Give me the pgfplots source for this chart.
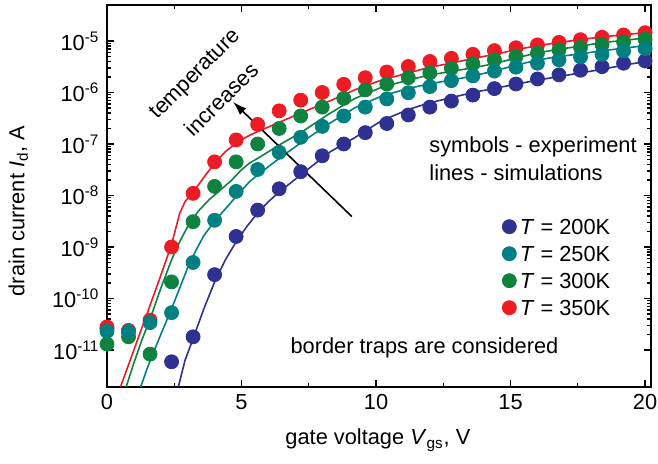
\documentclass[border=0pt]{standalone}
\usepackage{fontspec}
\setmainfont{Liberation Sans}
\usepackage{pgfplots}
\pgfplotsset{compat=1.18}
\usetikzlibrary{arrows.meta}

\definecolor{cblue}{RGB}{46,49,146}
\definecolor{cteal}{RGB}{0,128,128}
\definecolor{cgreen}{RGB}{16,130,64}
\definecolor{cred}{RGB}{237,28,36}

\begin{document}
\fontsize{10.9}{13}\selectfont
\begin{tikzpicture}
\begin{axis}[
  scale only axis, width=272pt, height=191pt,
  xmin=0, xmax=20.22,
  ymode=log, ymin=1.91e-12, ymax=5e-5,
  xtick={0,5,10,15,20}, minor x tick num=1,
  ytick={1e-11,1e-10,1e-9,1e-8,1e-7,1e-6,1e-5},
  yticklabels={10\textsuperscript{-11},10\textsuperscript{-10},10\textsuperscript{-9},10\textsuperscript{-8},10\textsuperscript{-7},10\textsuperscript{-6},10\textsuperscript{-5}},
  /pgf/number format/assume math mode=true,
  tick label style={font=\fontsize{10.9}{13}\selectfont},
  major tick length=3.5pt, minor tick length=1.8pt,
  axis line style={line width=0.8pt}, every tick/.style={line width=0.6pt, black},
  xlabel={gate voltage \textit{V}\textsubscript{gs}, V},
  ylabel={drain current \textit{I}\textsubscript{d}, A},
  xlabel style={at={(axis description cs:0.498,-0.139)}, anchor=center},
  ylabel style={at={(axis description cs:-0.163,0.461)}, anchor=center},
  legend style={draw=none, fill=none, at={(rel axis cs:0.715,0.46)}, anchor=north west,
    row sep=2.5pt, nodes={inner sep=1.75pt, text height=7.5pt, text depth=0pt}},
  legend cell align=left,
  legend image code/.code={\draw[#1] plot coordinates {(0.2cm,0cm)};},
  mark size=3.5pt,
]
\addlegendimage{only marks, mark=*, cblue}
\addlegendimage{only marks, mark=*, cteal}
\addlegendimage{only marks, mark=*, cgreen}
\addlegendimage{only marks, mark=*, cred}

% experiment
\addplot[forget plot, only marks, mark=*, cblue] coordinates {
(0,2.6e-11) (0.8,2.3e-11) (2.4,5.9e-12) (3.2,1.8e-11) (4.0,2.9e-10) (4.8,1.6e-9)
(5.6,5.2e-9) (6.4,1.35e-8) (7.2,2.9e-8) (8.0,5.9e-8) (8.8,1.0e-7) (9.6,1.66e-7)
(10.4,2.5e-7) (11.2,3.66e-7) (12.0,5.2e-7) (12.8,6.8e-7) (13.6,8.9e-7) (14.4,1.19e-6)
(15.2,1.46e-6) (16.0,1.83e-6) (16.8,2.2e-6) (17.6,2.7e-6) (18.4,3.17e-6) (19.2,3.7e-6) (20.0,4.1e-6)};
\addplot[forget plot, only marks, mark=*, cred] coordinates {
(0,2.8e-11) (0.8,2.4e-11) (1.6,3.8e-11) (2.4,1.0e-9) (3.2,1.1e-8) (4.0,4.5e-8) (4.8,1.2e-7)
(5.6,2.4e-7) (6.4,4.4e-7) (7.2,7.1e-7) (8.0,1.0e-6) (8.8,1.44e-6) (9.6,1.94e-6)
(10.4,2.5e-6) (11.2,3.2e-6) (12.0,4.0e-6) (12.8,4.6e-6) (13.6,5.5e-6) (14.4,6.5e-6)
(15.2,7.4e-6) (16.0,8.4e-6) (16.8,9.4e-6) (17.6,1.06e-5) (18.4,1.18e-5) (19.2,1.31e-5) (20.0,1.45e-5)};
\addplot[forget plot, only marks, mark=*, cgreen] coordinates {
(0,1.3e-11) (0.8,1.8e-11) (1.6,8.3e-12) (2.4,2.1e-10) (3.2,3.1e-9) (4.0,1.5e-8) (4.8,4.5e-8)
(5.6,1.0e-7) (6.4,2.0e-7) (7.2,3.5e-7) (8.0,5.2e-7) (8.8,7.7e-7) (9.6,1.12e-6)
(10.4,1.46e-6) (11.2,1.94e-6) (12.0,2.4e-6) (12.8,2.95e-6) (13.6,3.6e-6) (14.4,4.3e-6)
(15.2,5.0e-6) (16.0,5.8e-6) (16.8,6.7e-6) (17.6,7.5e-6) (18.4,8.5e-6) (19.2,9.6e-6) (20.0,1.08e-5)};
\addplot[forget plot, only marks, mark=*, cteal] coordinates {
(0,2.3e-11) (0.8,2.3e-11) (1.6,3.4e-11) (2.4,5.3e-11) (3.2,5.0e-10) (4.0,3.3e-9) (4.8,1.2e-8)
(5.6,3.2e-8) (6.4,6.9e-8) (7.2,1.35e-7) (8.0,2.2e-7) (8.8,3.5e-7) (9.6,5.2e-7)
(10.4,7.5e-7) (11.2,9.9e-7) (12.0,1.3e-6) (12.8,1.7e-6) (13.6,2.1e-6) (14.4,2.6e-6)
(15.2,3.1e-6) (16.0,3.7e-6) (16.8,4.3e-6) (17.6,4.9e-6) (18.4,5.5e-6) (19.2,6.4e-6) (20.0,7.1e-6)};

% simulations
\addplot[forget plot, cblue, line width=0.8pt] coordinates {
(2.65,1.91e-12) (2.9,6.31e-12) (3.2,1.66e-11) (3.6,6.31e-11) (4.0,2.09e-10) (4.4,5.62e-10)
(4.8,1.26e-9) (5.2,2.51e-9) (5.6,4.57e-9) (6.0,7.59e-9) (6.4,1.17e-8) (7.2,2.51e-8)
(8.3,7.08e-8) (9.2,1.32e-7) (10.2,2.82e-7) (11.2,4.68e-7) (12.0,6.31e-7) (12.8,7.94e-7)
(13.6,1.0e-6) (14.4,1.20e-6) (15.2,1.45e-6) (16.0,1.74e-6) (16.8,2.04e-6) (17.6,2.40e-6)
(18.4,2.82e-6) (19.2,3.39e-6) (20.0,3.98e-6) (20.2,4.27e-6)};
\addplot[forget plot, cteal, line width=0.8pt] coordinates {
(1.25,1.91e-12) (1.5,4.47e-12) (1.75,9.55e-12) (2.0,2.0e-11) (2.2,3.55e-11) (2.4,6.31e-11)
(2.7,1.58e-10) (3.0,3.98e-10) (3.3,8.51e-10) (3.6,1.66e-9) (4.0,3.16e-9) (4.4,5.50e-9)
(4.8,9.55e-9) (5.3,1.86e-8) (5.6,2.51e-8) (6.4,5.25e-8) (7.2,1.05e-7) (8.3,2.57e-7)
(9.2,5.01e-7) (10.2,8.51e-7) (11.2,1.20e-6) (12.0,1.48e-6) (12.8,1.74e-6) (13.6,2.09e-6)
(14.4,2.63e-6) (15.2,3.39e-6) (16.0,4.27e-6) (16.8,5.01e-6) (17.6,5.62e-6) (18.4,6.46e-6)
(19.2,7.24e-6) (20.0,8.13e-6) (20.2,8.32e-6)};
\addplot[forget plot, cgreen, line width=0.8pt] coordinates {
(0.71,1.91e-12) (1.0,5.62e-12) (1.3,1.58e-11) (1.6,3.98e-11) (2.0,1.58e-10) (2.4,5.62e-10)
(2.7,1.26e-9) (3.0,2.51e-9) (3.4,5.01e-9) (3.8,8.32e-9) (4.2,1.26e-8) (4.6,1.91e-8)
(5.0,3.16e-8) (5.3,4.27e-8) (5.6,5.25e-8) (6.4,9.55e-8) (7.2,1.66e-7) (8.3,3.98e-7)
(9.2,7.59e-7) (10.2,1.26e-6) (11.2,1.74e-6) (12.0,2.19e-6) (12.8,2.57e-6) (13.6,3.02e-6)
(14.4,3.63e-6) (15.2,4.68e-6) (16.0,5.89e-6) (16.8,6.92e-6) (17.6,7.94e-6) (18.4,9.33e-6)
(19.2,1.02e-5) (20.0,1.15e-5) (20.2,1.20e-5)};
\addplot[forget plot, cred, line width=0.8pt] coordinates {
(0.5,1.91e-12) (1.0,1e-11) (1.5,5.25e-11) (2.0,2.82e-10) (2.4,1.12e-9) (2.7,4.47e-9)
(2.9,7.59e-9) (3.2,1.17e-8) (3.6,2.24e-8) (4.0,4.27e-8) (4.4,7.08e-8) (4.8,1.05e-7)
(5.3,1.48e-7) (5.6,1.74e-7) (6.4,2.63e-7) (7.2,3.98e-7) (8.3,6.92e-7) (9.2,1.12e-6)
(10.2,1.74e-6) (11.2,2.40e-6) (12.0,3.09e-6) (12.8,3.72e-6) (13.6,4.57e-6) (14.4,5.50e-6)
(15.2,6.76e-6) (16.0,8.13e-6) (16.8,9.33e-6) (17.6,1.07e-5) (18.4,1.20e-5) (19.2,1.32e-5)
(20.0,1.45e-5) (20.2,1.51e-5)};

\legend{\textit{T} = 200K, \textit{T} = 250K, \textit{T} = 300K, \textit{T} = 350K}

\draw[-{Latex[length=7pt,width=4.5pt]}, line width=0.8pt] (axis cs:9.1,3.9e-9) -- (axis cs:4.68,6.6e-7);
\node[rotate=45] at (axis cs:3.31,2.19e-6) {temperature};
\node[rotate=45] at (axis cs:4.25,7.4e-7) {increases};
\node[anchor=west] at (axis cs:11.7,8.75e-8) {symbols - experiment};
\node[anchor=west] at (axis cs:11.7,2.73e-8) {lines - simulations};
\node[anchor=west] at (axis cs:6.54,1.1e-11) {border traps are considered};

\coordinate (sw) at (rel axis cs:0,0);
\coordinate (ne) at (rel axis cs:1,1);
\end{axis}
\pgfresetboundingbox
\path[use as bounding box] ([xshift=-53.5pt,yshift=-38.5pt]sw) rectangle ([xshift=3.5pt,yshift=2.5pt]ne);
\end{tikzpicture}
\end{document}
